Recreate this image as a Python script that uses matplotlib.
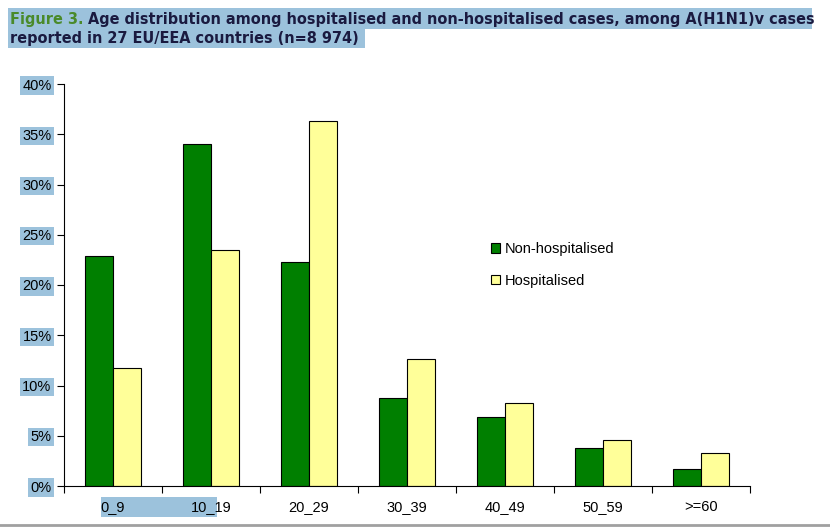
import numpy as np
import matplotlib
matplotlib.use("Agg")
import matplotlib.pyplot as plt
from matplotlib.patches import Rectangle

# data -----------------------------------------------
age_groups = ["0_9", "10_19", "20_29", "30_39", "40_49", "50_59", ">=60"]
non_hosp = [22.9, 34.0, 22.3, 8.8, 6.9, 3.8, 1.7]
hosp = [11.7, 23.5, 36.3, 12.6, 8.3, 4.6, 3.3]
yticks = [0, 5, 10, 15, 20, 25, 30, 35, 40]
# -----------------------------------------------------

green = "#007F00"
yellow = "#FFFF99"
hl = "#9CC2DC"

W, H = 830, 529
fig = plt.figure(figsize=(W / 100, H / 100), dpi=100)
fig.patch.set_facecolor("white")

ax = fig.add_axes([64 / W, 1 - 486 / H, (750 - 64) / W, (486 - 84) / H])

x = np.arange(len(age_groups))
bw = 0.286
ax.bar(x - bw / 2, non_hosp, bw, color=green, edgecolor="black", linewidth=0.8,
       label="Non-hospitalised")
ax.bar(x + bw / 2, hosp, bw, color=yellow, edgecolor="black", linewidth=0.8,
       label="Hospitalised")

ax.set_xlim(-0.5, len(age_groups) - 0.5)
ax.set_ylim(0, 40)
ax.set_yticks(yticks)
ax.set_yticklabels(["{}%".format(v) for v in yticks])
ax.set_xticks(np.arange(len(age_groups) + 1) - 0.5)
ax.set_xticklabels([])
ax.set_xticks(x, minor=True)
ax.set_xticklabels(age_groups, minor=True)
ax.tick_params(axis="x", which="minor", length=0, pad=10, labelsize=10.5)
ax.tick_params(axis="x", which="major", length=5, direction="out")
ax.tick_params(axis="y", length=5, direction="out", labelsize=10.5, pad=4)
for s in ["top", "right"]:
    ax.spines[s].set_visible(False)
for lab in ax.get_yticklabels():
    lab.set_family("Liberation Sans")
    lab.set_bbox(dict(facecolor=hl, edgecolor="none", pad=1.5))
for lab in ax.get_xticklabels(minor=True):
    lab.set_family("Liberation Sans")

# selection highlight behind first x labels
fig.patches.append(Rectangle((101 / W, 1 - 517 / H), 116 / W, 20 / H,
                             transform=fig.transFigure, facecolor=hl,
                             edgecolor="none", zorder=-1))

leg = ax.legend(loc="upper left", bbox_to_anchor=(414 / 686, 1 - 145 / 402),
                frameon=False, handlelength=0.6, handleheight=0.6,
                handletextpad=0.3, labelspacing=1.2,
                prop={"family": "Liberation Sans", "size": 10.5})

# title with highlight
fig.patches.append(Rectangle((8 / W, 1 - 29 / H), 804 / W, 21 / H,
                             transform=fig.transFigure, facecolor=hl,
                             edgecolor="none", zorder=-1))
fig.patches.append(Rectangle((8 / W, 1 - 48 / H), 357 / W, 19 / H,
                             transform=fig.transFigure, facecolor=hl,
                             edgecolor="none", zorder=-1))
tkw = dict(fontsize=10.45, fontweight="bold", family="DejaVu Sans", va="baseline")
t1 = fig.text(10 / W, 1 - 24 / H, "Figure 3.", color="#4A8A2A", **tkw)
fig.canvas.draw()
bb = t1.get_window_extent()
fig.text(bb.x1 / W + 4 / W, 1 - 24 / H,
         "Age distribution among hospitalised and non-hospitalised cases, among A(H1N1)v cases",
         color="#1A1A40", **tkw)
fig.text(10 / W, 1 - 43 / H, "reported in 27 EU/EEA countries (n=8 974)",
         color="#1A1A40", **tkw)

# page border line at bottom
fig.add_artist(plt.Line2D([0, 1], [1 - 525 / H, 1 - 525 / H], color="#A0A0A0",
                          linewidth=2, transform=fig.transFigure))

fig.savefig("out.png", dpi=100)
